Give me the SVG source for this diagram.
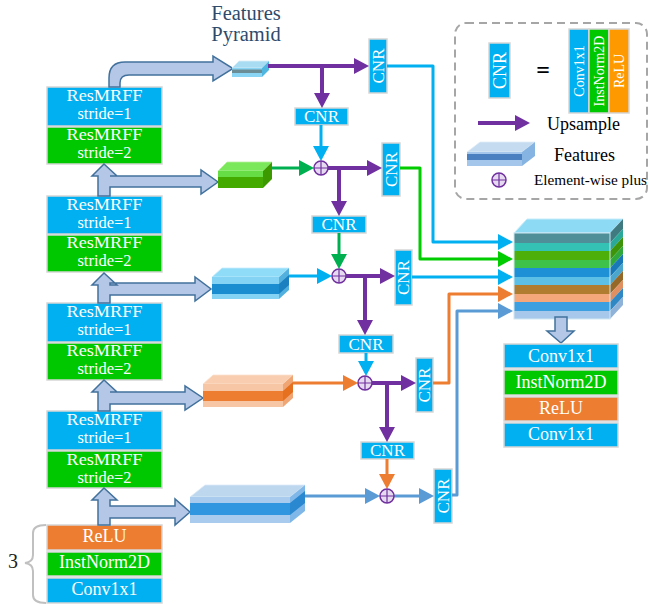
<svg xmlns="http://www.w3.org/2000/svg" width="649" height="604" viewBox="0 0 649 604">
<style>
text{font-family:"Liberation Serif","Times New Roman",serif}
.bx text{fill:#fff;text-anchor:middle}
.b{fill:#00b0f0;stroke:#d6d6d6;stroke-width:1.5}
.g{fill:#00c800;stroke:#d6d6d6;stroke-width:1.5}
.o{fill:#ed7d31;stroke:#d6d6d6;stroke-width:1.5}
.t18{font-size:18px}
.t17{font-size:17px}
.rm{font-size:16.5px}
.ha{fill:#b4c7e7;stroke:#41719c;stroke-width:1.5;stroke-linejoin:miter}
.ln{fill:none;stroke-linejoin:round}
.pu{stroke:#7030a0;stroke-width:4}
.cy{stroke:#00b0f0;stroke-width:3}
.gr{stroke:#00b050;stroke-width:3}
.bg{stroke:#00cc00;stroke-width:3}
.or{stroke:#ed7d31;stroke-width:3}
.sb{stroke:#5b9bd5;stroke-width:3}
.plus circle{fill:#e6daf0;stroke:#7030a0;stroke-width:1.5}
.plus path{stroke:#7030a0;stroke-width:1.2;fill:none}
.rot{dominant-baseline:central}
</style>
<defs>
<marker id="mPu" markerUnits="userSpaceOnUse" markerWidth="16" markerHeight="16" refX="5" refY="8" orient="auto"><path d="M0,0 L15,8 L0,16 Z" fill="#7030a0"/></marker>
<marker id="mCy" markerUnits="userSpaceOnUse" markerWidth="16" markerHeight="16" refX="5" refY="8" orient="auto"><path d="M0,0 L15,8 L0,16 Z" fill="#00b0f0"/></marker>
<marker id="mGr" markerUnits="userSpaceOnUse" markerWidth="16" markerHeight="16" refX="5" refY="8" orient="auto"><path d="M0,0 L15,8 L0,16 Z" fill="#00b050"/></marker>
<marker id="mBg" markerUnits="userSpaceOnUse" markerWidth="16" markerHeight="16" refX="5" refY="8" orient="auto"><path d="M0,0 L15,8 L0,16 Z" fill="#00cc00"/></marker>
<marker id="mOr" markerUnits="userSpaceOnUse" markerWidth="16" markerHeight="16" refX="5" refY="8" orient="auto"><path d="M0,0 L15,8 L0,16 Z" fill="#ed7d31"/></marker>
<marker id="mSb" markerUnits="userSpaceOnUse" markerWidth="16" markerHeight="16" refX="5" refY="8" orient="auto"><path d="M0,0 L15,8 L0,16 Z" fill="#5b9bd5"/></marker>
</defs>

<!-- Title -->
<g id="title" fill="#2f4a6b" font-size="20.5" text-anchor="middle">
<text x="246" y="20">Features</text>
<text x="246" y="41">Pyramid</text>
</g>

<!-- Left backbone -->
<g id="block1" class="bx">
<rect class="b" x="47" y="87" width="115" height="39"/>
<rect class="g" x="47" y="127" width="115" height="37"/>
<text class="rm" x="104.5" y="101" textLength="76" lengthAdjust="spacingAndGlyphs">ResMRFF</text><text class="rm" x="104.5" y="119">stride=1</text>
<text class="rm" x="104.5" y="140" textLength="76" lengthAdjust="spacingAndGlyphs">ResMRFF</text><text class="rm" x="104.5" y="158">stride=2</text>
</g>
<g id="block2" class="bx">
<rect class="b" x="47" y="196" width="115" height="38"/>
<rect class="g" x="47" y="235" width="115" height="37"/>
<text class="rm" x="104.5" y="210" textLength="76" lengthAdjust="spacingAndGlyphs">ResMRFF</text><text class="rm" x="104.5" y="228">stride=1</text>
<text class="rm" x="104.5" y="248" textLength="76" lengthAdjust="spacingAndGlyphs">ResMRFF</text><text class="rm" x="104.5" y="266">stride=2</text>
</g>
<g id="block3" class="bx">
<rect class="b" x="47" y="303" width="115" height="39"/>
<rect class="g" x="47" y="343" width="115" height="37"/>
<text class="rm" x="104.5" y="317" textLength="76" lengthAdjust="spacingAndGlyphs">ResMRFF</text><text class="rm" x="104.5" y="335">stride=1</text>
<text class="rm" x="104.5" y="356" textLength="76" lengthAdjust="spacingAndGlyphs">ResMRFF</text><text class="rm" x="104.5" y="374">stride=2</text>
</g>
<g id="block4" class="bx">
<rect class="b" x="47" y="411" width="115" height="39"/>
<rect class="g" x="47" y="451" width="115" height="37"/>
<text class="rm" x="104.5" y="425" textLength="76" lengthAdjust="spacingAndGlyphs">ResMRFF</text><text class="rm" x="104.5" y="443">stride=1</text>
<text class="rm" x="104.5" y="465" textLength="76" lengthAdjust="spacingAndGlyphs">ResMRFF</text><text class="rm" x="104.5" y="483">stride=2</text>
</g>
<g id="stem" class="bx">
<rect class="o" x="47" y="525" width="115" height="25"/>
<rect class="g" x="47" y="552" width="115" height="24"/>
<rect class="b" x="47" y="578" width="115" height="25"/>
<text class="t18" x="104.5" y="542">ReLU</text>
<text class="t18" x="104.5" y="568">InstNorm2D</text>
<text class="t18" x="104.5" y="595">Conv1x1</text>
</g>
<g id="repeat">
<path d="M46,525 Q33,525 33,533 L33,555 Q33,562 25,563 Q33,564 33,571 L33,595 Q33,603 46,603" fill="none" stroke="#c0c0c0" stroke-width="2"/>
<text x="8" y="568" font-size="20" fill="#222">3</text>
</g>

<!-- Hollow arrows -->
<g id="hollow-arrows">
<path class="ha" d="M109,87 L109,78 Q109,62 125,62 L213,62 L213,56 L233,68.5 L213,81 L213,75 L129,75 Q120,75 120,83 L120,87 Z"/>
<path class="ha" d="M98,196 L98,176 L92,176 L104,164 L117,176 L110,176 L201,176 L201,170 L218,182 L201,194 L201,187 L110,187 L110,196 Z"/>
<path class="ha" d="M98,303 L98,285 L92,285 L104,273 L117,285 L110,285 L110,283 L195,283 L195,277 L211,289 L195,301 L195,295 L110,295 L110,303 Z"/>
<path class="ha" d="M98,411 L98,392 L92,392 L104,380 L117,392 L110,392 L185,392 L185,386 L203,398 L185,410 L185,404 L110,404 L110,411 Z"/>
<path class="ha" d="M98,525 L98,500 L92,500 L104,488 L117,500 L110,500 L110,506 L175,506 L175,499 L190,512 L175,525 L175,518 L110,518 L110,525 Z"/>
</g>

<!-- Feature slabs -->
<g id="feat1">
<polygon points="232,68 262,68 269,61 239,61" fill="#a8dcf2" stroke="#d8eef8" stroke-width="0.8"/>
<rect x="232" y="68" width="30" height="9" fill="#8ad4f4"/>
<rect x="232" y="69.5" width="30" height="3.5" fill="#6b8e96"/>
<polygon points="262,68 269,61 269,70 262,77" fill="#4fb6e0"/>
</g>
<g id="feat2">
<polygon points="218,171 263,171 272,162 227,162" fill="#7ae85a" stroke="#b8f0a0" stroke-width="0.8"/>
<rect x="218" y="171" width="45" height="6" fill="#66dd44"/>
<rect x="218" y="177" width="45" height="11" fill="#44aa00"/>
<polygon points="263,171 272,162 272,179 263,188" fill="#3d9900"/>
</g>
<g id="feat3">
<polygon points="212,277 279,277 289,268 222,268" fill="#8fdcf8" stroke="#c8ecfb" stroke-width="0.8"/>
<rect x="212" y="277" width="67" height="22" fill="#84d2f4"/>
<rect x="212" y="284" width="67" height="10" fill="#1a8cd0"/>
<polygon points="279,277 289,268 289,290 279,299" fill="#52b0de"/>
<polygon points="279,284 289,275 289,285 279,294" fill="#1a80c0"/>
</g>
<g id="feat4">
<polygon points="203,384 283,384 293,375 213,375" fill="#f8cdb0" stroke="#fbe2d0" stroke-width="0.8"/>
<rect x="203" y="384" width="80" height="23" fill="#f7c6a4"/>
<rect x="203" y="391" width="80" height="10" fill="#ed7d31"/>
<polygon points="283,384 293,375 293,398 283,407" fill="#f0a574"/>
<polygon points="283,391 293,382 293,392 283,401" fill="#e47020"/>
</g>
<g id="feat5">
<polygon points="190,497 290,497 305,485 205,485" fill="#bdd7ee" stroke="#dceaf7" stroke-width="0.8"/>
<rect x="190" y="497" width="100" height="26" fill="#a8cbee"/>
<rect x="190" y="503" width="100" height="12" fill="#3096e0"/>
<polygon points="290,497 305,485 305,511 290,523" fill="#7fb8e8"/>
<polygon points="290,503 305,491 305,503 290,515" fill="#2a88d0"/>
</g>

<!-- CNR boxes -->
<g id="cnr-h1" class="bx"><rect class="b" x="295" y="108" width="53" height="17"/><text class="t17" x="321.5" y="122">CNR</text></g>
<g id="cnr-h2" class="bx"><rect class="b" x="312" y="216" width="54" height="17"/><text class="t17" x="339" y="230">CNR</text></g>
<g id="cnr-h3" class="bx"><rect class="b" x="339" y="335" width="54" height="18"/><text class="t17" x="366" y="350">CNR</text></g>
<g id="cnr-h4" class="bx"><rect class="b" x="361" y="442" width="53" height="17"/><text class="t17" x="387.5" y="456">CNR</text></g>

<g id="cnr-v1" class="bx"><rect class="b" x="369" y="39" width="18" height="54"/><text class="t17 rot" x="378" y="66" transform="rotate(-90 378 66)">CNR</text></g>
<g id="cnr-v2" class="bx"><rect class="b" x="382" y="143" width="18" height="53"/><text class="t17 rot" x="391" y="169.5" transform="rotate(-90 391 169.5)">CNR</text></g>
<g id="cnr-v3" class="bx"><rect class="b" x="395" y="250" width="17" height="55"/><text class="t17 rot" x="403.5" y="277.5" transform="rotate(-90 403.5 277.5)">CNR</text></g>
<g id="cnr-v4" class="bx"><rect class="b" x="416" y="358" width="17" height="54"/><text class="t17 rot" x="424.5" y="385" transform="rotate(-90 424.5 385)">CNR</text></g>
<g id="cnr-v5" class="bx"><rect class="b" x="434" y="469" width="18" height="54"/><text class="t17 rot" x="443" y="496" transform="rotate(-90 443 496)">CNR</text></g>

<!-- Connectors -->
<g id="connectors">
<path class="ln pu" d="M268,66 H359" marker-end="url(#mPu)"/>
<path class="ln pu" d="M322,66 V98" marker-end="url(#mPu)"/>
<path class="ln cy" d="M387,66 H433 V242 H503" marker-end="url(#mCy)"/>
<path class="ln cy" d="M321,125 V151" marker-end="url(#mCy)"/>
<path class="ln gr" d="M272,168 H304" marker-end="url(#mGr)"/>
<path class="ln pu" d="M328,168 H372" marker-end="url(#mPu)"/>
<path class="ln pu" d="M339,168 V206" marker-end="url(#mPu)"/>
<path class="ln bg" d="M400,168 H420 V259 H503" marker-end="url(#mBg)"/>
<path class="ln gr" d="M339,233 V259" marker-end="url(#mGr)"/>
<path class="ln cy" d="M289,276 H322" marker-end="url(#mCy)"/>
<path class="ln pu" d="M346,276 H385" marker-end="url(#mPu)"/>
<path class="ln pu" d="M365,276 V325" marker-end="url(#mPu)"/>
<path class="ln cy" d="M412,277 H503" marker-end="url(#mCy)"/>
<path class="ln cy" d="M366,353 V366" marker-end="url(#mCy)"/>
<path class="ln or" d="M293,383 H348" marker-end="url(#mOr)"/>
<path class="ln pu" d="M372,383 H406" marker-end="url(#mPu)"/>
<path class="ln pu" d="M387,383 V432" marker-end="url(#mPu)"/>
<path class="ln or" d="M433,383 H449 V294 H503" marker-end="url(#mOr)"/>
<path class="ln or" d="M387,459 V479" marker-end="url(#mOr)"/>
<path class="ln sb" d="M305,496 H370" marker-end="url(#mSb)"/>
<path class="ln sb" d="M394,496 H424" marker-end="url(#mSb)"/>
<path class="ln sb" d="M452,495 H457 V311 H503" marker-end="url(#mSb)"/>
</g>

<!-- Element-wise plus nodes -->
<g id="plus2" class="plus"><circle cx="321" cy="168" r="7"/><path d="M314,168 H328 M321,161 V175"/></g>
<g id="plus3" class="plus"><circle cx="339" cy="276" r="7"/><path d="M332,276 H346 M339,269 V283"/></g>
<g id="plus4" class="plus"><circle cx="365" cy="383" r="7"/><path d="M358,383 H372 M365,376 V390"/></g>
<g id="plus5" class="plus"><circle cx="387" cy="496" r="7"/><path d="M380,496 H394 M387,489 V503"/></g>

<!-- Concatenated stack -->
<g id="stack">
<polygon points="514,233 610,233 623,219 527,219" fill="#8ddaf5" stroke="#c8ecfb" stroke-width="1"/>
<rect x="514" y="233" width="96" height="10" fill="#4f8f97"/>
<rect x="514" y="243" width="96" height="8" fill="#33c2b3"/>
<rect x="514" y="251" width="96" height="9" fill="#4caf0a"/>
<rect x="514" y="260" width="96" height="8" fill="#3fc24a"/>
<rect x="514" y="268" width="96" height="9" fill="#1e90d6"/>
<rect x="514" y="277" width="96" height="8" fill="#5bbfe6"/>
<rect x="514" y="285" width="96" height="9" fill="#b07c30"/>
<rect x="514" y="294" width="96" height="8" fill="#f3a77a"/>
<rect x="514" y="302" width="96" height="9" fill="#3ca0e0"/>
<rect x="514" y="311" width="96" height="8" fill="#a7c8ea"/>
<polygon points="610,233 623,219 623,229 610,243" fill="#3e7a80"/>
<polygon points="610,243 623,229 623,237 610,251" fill="#2aa89a"/>
<polygon points="610,251 623,237 623,246 610,260" fill="#3d9408"/>
<polygon points="610,260 623,246 623,254 610,268" fill="#31a83a"/>
<polygon points="610,268 623,254 623,263 610,277" fill="#1878b8"/>
<polygon points="610,277 623,263 623,271 610,285" fill="#4aa6cc"/>
<polygon points="610,285 623,271 623,280 610,294" fill="#966828"/>
<polygon points="610,294 623,280 623,288 610,302" fill="#e08f60"/>
<polygon points="610,302 623,288 623,297 610,311" fill="#2f88c4"/>
<polygon points="610,311 623,297 623,305 610,319" fill="#8fb2d8"/>
<rect x="514" y="233" width="96" height="86" fill="none" stroke="#d0e8f4" stroke-width="1"/>
</g>
<path id="stack-down" class="ha" d="M555,317 L567,317 L567,331 L574,331 L561,343 L547,331 L555,331 Z"/>

<!-- Head -->
<g id="head" class="bx">
<rect class="b" x="504" y="344" width="114" height="24"/>
<rect class="g" x="504" y="370" width="114" height="25"/>
<rect class="o" x="504" y="397" width="114" height="24"/>
<rect class="b" x="504" y="423" width="114" height="24"/>
<text class="t18" x="561" y="362">Conv1x1</text>
<text class="t18" x="561" y="388">InstNorm2D</text>
<text class="t18" x="561" y="414">ReLU</text>
<text class="t18" x="561" y="440">Conv1x1</text>
</g>

<!-- Legend -->
<g id="legend">
<rect x="455" y="23" width="192" height="176" rx="11" fill="none" stroke="#a6a6a6" stroke-width="2" stroke-dasharray="8,5"/>
<g class="bx">
<rect class="b" x="489" y="43" width="21" height="55"/>
<text class="t18 rot" x="499.5" y="70.5" transform="rotate(-90 499.5 70.5)">CNR</text>
</g>
<text x="543" y="78" font-size="24" font-weight="bold" text-anchor="middle" fill="#000">=</text>
<g class="bx">
<rect class="b" x="569" y="29" width="20" height="84"/>
<rect class="g" x="589" y="29" width="20" height="84"/>
<rect class="o" x="609" y="29" width="20" height="84" style="fill:#ff9900"/>
<text class="rot" font-size="14" x="579" y="71" transform="rotate(-90 579 71)">Conv1x1</text>
<text class="rot" font-size="14" x="599" y="71" transform="rotate(-90 599 71)">InstNorm2D</text>
<text class="rot" font-size="14" x="619" y="71" transform="rotate(-90 619 71)">ReLU</text>
</g>
<path class="ln pu" d="M478,123 H520" marker-end="url(#mPu)"/>
<text x="547" y="130" font-size="18" fill="#000">Upsample</text>
<polygon points="467,152 522,152 535,142 480,142" fill="#c5dcf0" stroke="#e0ecf8" stroke-width="0.8"/>
<rect x="467" y="152" width="55" height="14" fill="#a3c6ea"/>
<rect x="467" y="154" width="55" height="6" fill="#4a80c0"/>
<polygon points="522,152 535,142 535,156 522,166" fill="#86b4e2"/>
<text x="554" y="161" font-size="18" fill="#000">Features</text>
<g class="plus"><circle cx="499" cy="180" r="7"/><path d="M492,180 H506 M499,173 V187"/></g>
<text x="534" y="185" font-size="14.5" fill="#000" textLength="113" lengthAdjust="spacingAndGlyphs">Element-wise plus</text>
</g>
</svg>
